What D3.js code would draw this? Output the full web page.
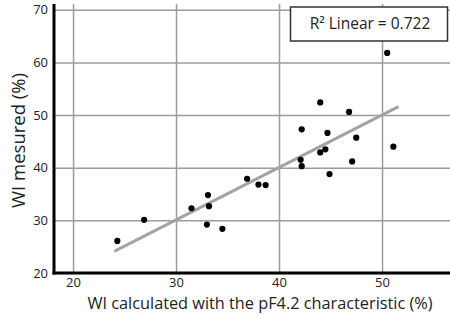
<!DOCTYPE html>
<html>
<head>
<meta charset="utf-8">
<script src="https://cdn.jsdelivr.net/npm/d3@7"></script>
<style>
  html, body { margin: 0; padding: 0; background: #fff; }
  svg { display: block; }
</style>
</head>
<body>
<svg id="chart" width="450" height="315"></svg>
<script>
// ---- data ----
const wiCalculated = [24.3, 26.9, 31.5, 33.1, 33.2, 33.0, 34.5, 36.9, 38.0, 38.7,
                      42.2, 42.1, 42.2, 44.0, 44.5, 44.0, 44.7, 44.9, 46.8, 47.1,
                      47.5, 50.5, 51.1];
const wiMeasured   = [26.1, 30.1, 32.3, 34.8, 32.7, 29.2, 28.4, 37.9, 36.8, 36.7,
                      47.3, 41.5, 40.3, 52.4, 43.5, 42.9, 46.6, 38.8, 50.6, 41.2,
                      45.7, 61.8, 44.0];
const fitX = [24.0, 51.6];
const fitY = [24.1, 51.6];
const xTicks = [20, 30, 40, 50];
const yTicks = [20, 30, 40, 50, 60, 70];
const xTitle = "WI calculated with the pF4.2 characteristic (%)";
const yTitle = "WI mesured (%)";
const r2Label = "R\u00B2 Linear = 0.722";

// ---- layout ----
const svg = d3.select("#chart");
const pLeft = 54, pRight = 450, pTop = 4, pBottom = 273;
const x = d3.scaleLinear().domain([18.15, 56.6]).range([pLeft, pRight]);
const y = d3.scaleLinear().domain([20, 71.1]).range([pBottom, pTop]);
const font = "'Open Sans', sans-serif";

// gridlines via axes
const gx = svg.append("g").attr("transform", `translate(0,${pBottom})`)
  .call(d3.axisBottom(x).tickValues(xTicks).tickSize(-(pBottom - pTop)).tickFormat(d3.format("d")).tickPadding(5));
gx.select(".domain").remove();
gx.selectAll(".tick line").attr("stroke", "#9c9c9c").attr("stroke-width", 1.5);
gx.selectAll(".tick text").attr("font-family", font).attr("font-size", 13).attr("fill", "#222")
  .attr("dy", "0.71em").attr("y", 5);

const gy = svg.append("g").attr("transform", `translate(${pLeft},0)`)
  .call(d3.axisLeft(y).tickValues(yTicks).tickSize(-(pRight - pLeft)).tickFormat(d3.format("d")).tickPadding(6));
gy.select(".domain").remove();
gy.selectAll(".tick line").attr("stroke", "#9c9c9c").attr("stroke-width", 1.5);
gy.selectAll(".tick text").attr("font-family", font).attr("font-size", 13).attr("fill", "#222")
  .attr("x", -6);

// fit line
svg.append("line")
  .attr("x1", x(fitX[0])).attr("y1", y(fitY[0]))
  .attr("x2", x(fitX[1])).attr("y2", y(fitY[1]))
  .attr("stroke", "#a3a3a3").attr("stroke-width", 3);

// points
svg.append("g").selectAll("circle")
  .data(wiCalculated.map((d, i) => [d, wiMeasured[i]]))
  .join("circle")
  .attr("cx", d => x(d[0])).attr("cy", d => y(d[1]))
  .attr("r", 3.1).attr("fill", "#000");

// axis lines
svg.append("line").attr("x1", pLeft).attr("x2", pLeft).attr("y1", pTop).attr("y2", pBottom + 1.5)
  .attr("stroke", "#000").attr("stroke-width", 3);
svg.append("line").attr("x1", pLeft - 1.5).attr("x2", pRight).attr("y1", pBottom).attr("y2", pBottom)
  .attr("stroke", "#000").attr("stroke-width", 3);

// R2 box
svg.append("rect").attr("x", 290.5).attr("y", 7).attr("width", 157).attr("height", 34)
  .attr("fill", "#fff").attr("stroke", "#333").attr("stroke-width", 1.5);
svg.append("text").attr("x", 370).attr("y", 28.7).attr("text-anchor", "middle")
  .attr("font-family", font).attr("font-size", 15.5).attr("fill", "#222").text(r2Label);

// titles
svg.append("text").attr("x", 260).attr("y", 308.5).attr("text-anchor", "middle")
  .attr("font-family", font).attr("font-size", 16.3).attr("fill", "#222").text(xTitle);
svg.append("text").attr("transform", `translate(24.5,140.5) rotate(-90)`).attr("text-anchor", "middle")
  .attr("font-family", font).attr("font-size", 18.5).attr("fill", "#222").text(yTitle);
</script>
</body>
</html>
